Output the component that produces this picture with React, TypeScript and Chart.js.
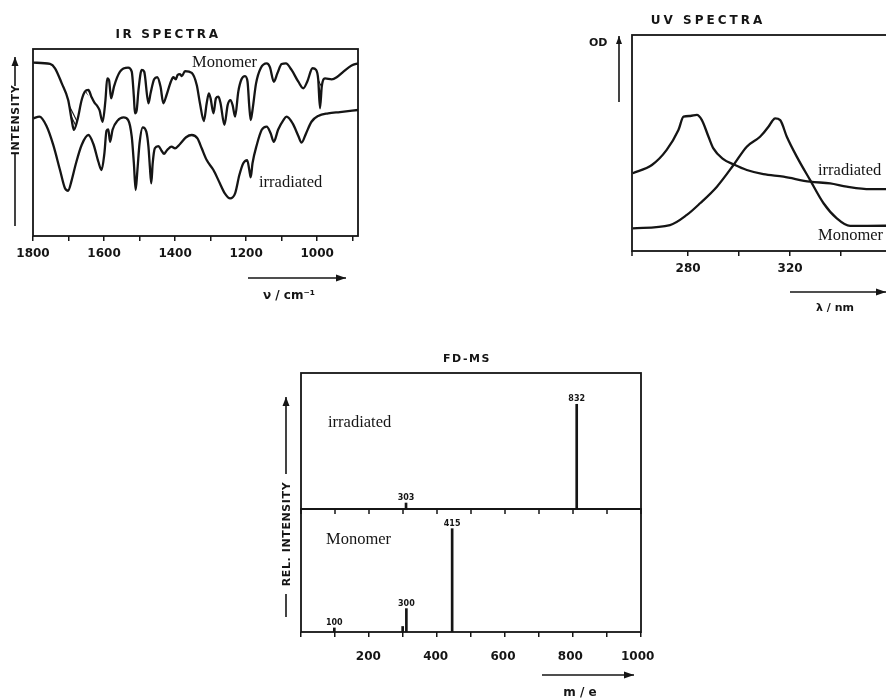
import React, { useEffect, useRef } from "react";
import { Chart, registerables } from "chart.js";
Chart.register(...registerables);

// ---------------- IR data (wavenumber cm-1, relative intensity position) ----------------
const irMonomerNu = [1799, 1752, 1738, 1719, 1701, 1691, 1685, 1675, 1663, 1654, 1644, 1635, 1627, 1621, 1613, 1604, 1596, 1591, 1586, 1580, 1572, 1555, 1532, 1522, 1516, 1513, 1508, 1503, 1494, 1487, 1475, 1469, 1459, 1450, 1441, 1433, 1424, 1412, 1405, 1398, 1393, 1386, 1381, 1372, 1353, 1339, 1330, 1319, 1311, 1305, 1300, 1292, 1285, 1278, 1272, 1261, 1252, 1244, 1238, 1231, 1222, 1213, 1203, 1196, 1191, 1187, 1182, 1172, 1159, 1142, 1133, 1122, 1112, 1100, 1088, 1072, 1053, 1039, 1028, 1013, 1003, 997, 992, 987, 978, 959, 945, 926, 903, 884];
const irMonomer = [92.7, 92, 89.7, 81.6, 72.7, 62, 56.7, 62, 72.7, 77.2, 78.1, 74.2, 71.3, 70, 67.4, 61.1, 72.7, 84.3, 83.4, 73.6, 79.9, 87.9, 90, 87.9, 74.5, 65.6, 67.4, 78.1, 88.8, 87.9, 71, 76.3, 83.8, 84.9, 79.9, 71, 75.4, 82.5, 84.9, 83.8, 86.1, 86.6, 85.5, 88.2, 87.2, 80.7, 71, 61.5, 71, 76.3, 73.6, 65.6, 73.6, 74.5, 71, 59.4, 70, 72.7, 70, 63.8, 77.2, 83.8, 85.5, 82.5, 69.1, 62, 67.4, 81.6, 89.7, 92.3, 90.3, 82.5, 87, 92, 92.3, 88.8, 82.5, 79, 82.5, 89.7, 88.8, 83.8, 68.3, 79.9, 84.3, 83.8, 84.9, 87.9, 91.2, 92.3];
const irIrradiatedNu = [1799, 1782, 1762, 1743, 1724, 1710, 1701, 1691, 1679, 1663, 1644, 1630, 1616, 1607, 1599, 1593, 1588, 1583, 1576, 1562, 1545, 1532, 1522, 1516, 1511, 1506, 1500, 1491, 1481, 1475, 1471, 1467, 1463, 1457, 1447, 1438, 1431, 1424, 1410, 1400, 1386, 1369, 1353, 1337, 1325, 1311, 1292, 1274, 1260, 1245, 1231, 1219, 1208, 1197, 1191, 1187, 1182, 1170, 1156, 1142, 1131, 1122, 1110, 1095, 1086, 1069, 1053, 1044, 1031, 1016, 997, 969, 936, 884];
const irIrradiated = [62.9, 63.8, 58.8, 48.7, 35.3, 25.5, 24.2, 29.9, 38.9, 48.7, 54, 49.2, 39.7, 35.3, 44.2, 56.3, 57, 50.4, 56.8, 61.7, 63.4, 62, 53.1, 38.9, 24.6, 35.3, 49.6, 58.1, 55.8, 47.8, 37.1, 28.2, 38.9, 46.9, 48.1, 45.6, 43.9, 45.6, 47.8, 46.9, 49.2, 52.8, 54, 52.2, 46.9, 40.6, 35.3, 28.2, 22.8, 20.1, 22.8, 32.6, 38.9, 40.6, 35.3, 31.4, 38.9, 48.7, 56.8, 58.5, 54.9, 50.4, 56.8, 62, 63.8, 60.2, 53.5, 49.9, 55, 61.1, 64.2, 65.6, 66.3, 67.4];
const irTickLabels = [1800, 1600, 1400, 1200, 1000];
// hatched bands of the monomer spectrum (wavenumber ranges)
const irHatchBands = [[1722, 1675], [1656, 1620], [1004, 986]];

// ---------------- UV data (nm, OD position) ----------------
const uvMonomerNm = [258.3, 272.9, 279.5, 284.7, 291.3, 297.8, 303, 308.2, 311.5, 313, 314.1, 316.1, 318.7, 322.6, 327.8, 333.1, 338.3, 343.5, 357.3, 367];
const uvMonomer = [10.5, 12, 16.7, 22.1, 29.8, 39.8, 48.3, 52.9, 57.5, 60.2, 61.4, 60.6, 52.9, 43.7, 32.9, 22.1, 15.1, 11.6, 11.7, 11.7];
const uvIrradiatedNm = [258.3, 265.8, 271.6, 276.2, 278.2, 280.8, 283.4, 285.4, 288, 289.9, 293.8, 297.8, 303, 309.5, 317.4, 327.8, 335.7, 342.2, 351.4, 357.3, 367];
const uvIrradiated = [36, 39.8, 46.8, 56, 62.2, 62.5, 63, 60.6, 52.9, 47.5, 42.5, 40.1, 37.5, 35.6, 34.4, 32.1, 31.3, 29.8, 28.6, 28.6, 28.5];
const uvTickLabels = [280, 320];

// ---------------- FD-MS data (m/e, relative intensity) ----------------
const msIrradiatedMass = [312, 819];
const msIrradiatedIntensity = [4.4, 77];
const msIrradiatedLabels = ["303", "832"];
const msMonomerMass = [99, 302, 313, 449];
const msMonomerIntensity = [3.3, 4.5, 19, 84];
const msMonomerLabels = ["100", "", "300", "415"];
const msTickLabels = [200, 400, 600, 800, 1000];

const SANS = '"DejaVu Sans", sans-serif';
const SERIF = '"Liberation Serif", "DejaVu Serif", serif';
const INK = "#151515";

function drawArrow(ctx: CanvasRenderingContext2D, x1: number, y1: number, x2: number, y2: number, head = 8, half = 3.5) {
  ctx.beginPath();
  ctx.moveTo(x1, y1);
  ctx.lineTo(x2, y2);
  ctx.stroke();
  const a = Math.atan2(y2 - y1, x2 - x1);
  ctx.beginPath();
  ctx.moveTo(x2, y2);
  ctx.lineTo(x2 - head * Math.cos(a) + half * Math.sin(a), y2 - head * Math.sin(a) - half * Math.cos(a));
  ctx.lineTo(x2 - head * Math.cos(a) - half * Math.sin(a), y2 - head * Math.sin(a) + half * Math.cos(a));
  ctx.closePath();
  ctx.fill();
}

function text(ctx: CanvasRenderingContext2D, s: string, x: number, y: number, font: string, align: CanvasTextAlign = "left", spacing = "0px") {
  ctx.save();
  ctx.font = font;
  (ctx as any).letterSpacing = spacing;
  ctx.textAlign = align;
  ctx.textBaseline = "alphabetic";
  ctx.fillStyle = INK;
  ctx.fillText(s, x, y);
  ctx.restore();
}

function vLabel(ctx: CanvasRenderingContext2D, s: string, x: number, tip: number, lineEnd: number, cy: number, lineStart: number, bottom: number) {
  ctx.save();
  ctx.strokeStyle = INK;
  ctx.fillStyle = INK;
  ctx.lineWidth = 1.6;
  drawArrow(ctx, x, lineEnd, x, tip, 9, 3.5);
  ctx.beginPath();
  ctx.moveTo(x, lineStart);
  ctx.lineTo(x, bottom);
  ctx.stroke();
  ctx.translate(x, cy);
  ctx.rotate(-Math.PI / 2);
  ctx.font = `bold 11px ${SANS}`;
  (ctx as any).letterSpacing = "0.6px";
  ctx.textAlign = "center";
  ctx.textBaseline = "middle";
  ctx.fillText(s, 0, 1);
  ctx.restore();
}

function frame(ctx: CanvasRenderingContext2D, l: number, t: number, r: number, b: number) {
  ctx.save();
  ctx.strokeStyle = INK;
  ctx.lineWidth = 1.8;
  ctx.strokeRect(l, t, r - l, b - t);
  ctx.restore();
}

function fixedHeight(h: number) {
  return (scale: any) => {
    scale.height = h;
  };
}

function xy(xs: number[], ys: number[]) {
  return xs.map((x, i) => ({ x, y: ys[i] }));
}

const lineDs = (label: string, data: any[]) => ({
  label,
  data,
  borderColor: INK,
  borderWidth: 2.3,
  pointRadius: 0,
  fill: false,
  cubicInterpolationMode: "monotone" as const,
});

function useChart(ref: React.RefObject<HTMLCanvasElement>, make: () => any) {
  useEffect(() => {
    if (!ref.current) return;
    const chart = new Chart(ref.current, make());
    return () => chart.destroy();
  }, []);
}

const baseOptions = {
  animation: false,
  responsive: false,
  devicePixelRatio: 1,
  events: [],
  plugins: { legend: { display: false }, tooltip: { enabled: false }, title: { display: false } },
};

function IRChart() {
  const ref = useRef<HTMLCanvasElement>(null);
  const W = 372, H = 310, OX = 0, OY = 0;
  useChart(ref, () => ({
    type: "line",
    data: {
      datasets: [lineDs("Monomer", xy(irMonomerNu, irMonomer)), lineDs("irradiated", xy(irIrradiatedNu, irIrradiated))],
    },
    options: {
      ...baseOptions,
      layout: { padding: { left: 33 - OX, right: W - 358, top: 49 - OY, bottom: 0 } },
      scales: {
        x: {
          type: "linear",
          reverse: true,
          min: 885,
          max: 1800,
          afterFit: fixedHeight(H - 236),
          border: { display: false },
          grid: { drawOnChartArea: false, drawTicks: true, tickLength: 5, color: INK, lineWidth: 1.5 },
          ticks: {
            stepSize: 100,
            includeBounds: false,
            autoSkip: false,
            maxRotation: 0,
            padding: 6,
            color: INK,
            font: { family: SANS, weight: "bold", size: 12 },
            callback: (v: number) => (irTickLabels.includes(v) ? String(v) : ""),
          },
        },
        y: { display: false, min: 0, max: 100 },
      },
    },
    plugins: [
      {
        id: "irHatch",
        afterDatasetsDraw(chart: any) {
          const ctx = chart.ctx as CanvasRenderingContext2D;
          const xs = chart.scales.x;
          const a = chart.chartArea;
          const pts = chart.getDatasetMeta(0).data as any[];
          for (const [hi, lo] of irHatchBands) {
            const inBand = pts.filter((p: any, i: number) => irMonomerNu[i] <= hi && irMonomerNu[i] >= lo);
            if (inBand.length < 2) continue;
            ctx.save();
            ctx.beginPath();
            inBand.forEach((p: any, i: number) => (i ? ctx.lineTo(p.x, p.y) : ctx.moveTo(p.x, p.y)));
            ctx.closePath();
            ctx.clip();
            const x0 = xs.getPixelForValue(hi) - 200;
            const x1 = xs.getPixelForValue(lo) + 20;
            ctx.strokeStyle = INK;
            ctx.lineWidth = 1.1;
            for (let x = x0; x < x1; x += 3.4) {
              ctx.beginPath();
              ctx.moveTo(x, a.top);
              ctx.lineTo(x + 100, a.top + 200);
              ctx.stroke();
            }
            ctx.restore();
          }
        },
        afterDraw(chart: any) {
          const ctx = chart.ctx as CanvasRenderingContext2D;
          const a = chart.chartArea;
          frame(ctx, a.left, a.top, a.right, a.bottom);
          text(ctx, "IR SPECTRA", 168 - OX, 38 - OY, `bold 12px ${SANS}`, "center", "2.6px");
          text(ctx, "Monomer", 192 - OX, 67 - OY, `16.5px ${SERIF}`);
          text(ctx, "irradiated", 259 - OX, 187 - OY, `16.5px ${SERIF}`);
          vLabel(ctx, "INTENSITY", 15 - OX, 57 - OY, 86 - OY, 120 - OY, 154 - OY, 226 - OY);
          ctx.save();
          ctx.strokeStyle = INK;
          ctx.fillStyle = INK;
          ctx.lineWidth = 1.6;
          drawArrow(ctx, 248 - OX, 278 - OY, 346 - OX, 278 - OY, 10, 3.5);
          ctx.restore();
          text(ctx, "ν / cm⁻¹", 289 - OX, 299 - OY, `bold 12px ${SANS}`, "center");
        },
      },
    ],
  }));
  return <canvas ref={ref} width={W} height={H} style={{ position: "absolute", left: OX, top: OY, width: W, height: H }} />;
}

function UVChart() {
  const ref = useRef<HTMLCanvasElement>(null);
  const W = 330, H = 320, OX = 580, OY = 0;
  useChart(ref, () => ({
    type: "line",
    data: {
      datasets: [lineDs("Monomer", xy(uvMonomerNm, uvMonomer)), lineDs("irradiated", xy(uvIrradiatedNm, uvIrradiated))],
    },
    options: {
      ...baseOptions,
      layout: { padding: { left: 632 - OX, right: 0, top: 35 - OY, bottom: 0 } },
      scales: {
        x: {
          type: "linear",
          min: 258,
          max: 367,
          afterFit: fixedHeight(H - 251),
          afterBuildTicks: (s: any) => {
            s.ticks = s.ticks.filter((t: any) => t.value >= 280);
          },
          border: { display: false },
          grid: { drawOnChartArea: false, drawTicks: true, tickLength: 5, color: INK, lineWidth: 1.5 },
          ticks: {
            stepSize: 20,
            includeBounds: false,
            autoSkip: false,
            maxRotation: 0,
            padding: 6,
            color: INK,
            font: { family: SANS, weight: "bold", size: 12 },
            callback: (v: number) => (uvTickLabels.includes(v) ? String(v) : ""),
          },
        },
        y: { display: false, min: 0, max: 100 },
      },
    },
    plugins: [
      {
        id: "uvDecor",
        afterDraw(chart: any) {
          const ctx = chart.ctx as CanvasRenderingContext2D;
          const a = chart.chartArea;
          frame(ctx, a.left, a.top, a.right + 20, a.bottom);
          ctx.save();
          ctx.strokeStyle = INK;
          ctx.lineWidth = 1.5;
          ctx.beginPath();
          ctx.moveTo(a.left, a.bottom);
          ctx.lineTo(a.left, a.bottom + 5);
          ctx.stroke();
          ctx.restore();
          text(ctx, "UV SPECTRA", 708 - OX, 24 - OY, `bold 12px ${SANS}`, "center", "3px");
          text(ctx, "OD", 589 - OX, 46 - OY, `bold 11px ${SANS}`);
          ctx.save();
          ctx.strokeStyle = INK;
          ctx.fillStyle = INK;
          ctx.lineWidth = 1.6;
          drawArrow(ctx, 619 - OX, 102 - OY, 619 - OX, 36 - OY, 8, 3);
          drawArrow(ctx, 790 - OX, 292 - OY, 886 - OX, 292 - OY, 10, 3.5);
          ctx.restore();
          text(ctx, "irradiated", 818 - OX, 175 - OY, `16.5px ${SERIF}`);
          text(ctx, "Monomer", 818 - OX, 240 - OY, `16.5px ${SERIF}`);
          text(ctx, "λ / nm", 835 - OX, 311 - OY, `bold 11px ${SANS}`, "center");
        },
      },
    ],
  }));
  return <canvas ref={ref} width={W} height={H} style={{ position: "absolute", left: OX, top: OY, width: W, height: H }} />;
}

function MSChart() {
  const ref = useRef<HTMLCanvasElement>(null);
  const W = 390, H = 358, OX = 270, OY = 340;
  useChart(ref, () => ({
    type: "bar",
    data: {
      datasets: [
        {
          label: "Monomer",
          data: xy(msMonomerMass, msMonomerIntensity),
          yAxisID: "yBot",
          backgroundColor: INK,
          barThickness: 2,
          grouped: false,
          peakLabels: msMonomerLabels,
        },
        {
          label: "irradiated",
          data: xy(msIrradiatedMass, msIrradiatedIntensity),
          yAxisID: "yTop",
          backgroundColor: INK,
          barThickness: 2,
          grouped: false,
          peakLabels: msIrradiatedLabels,
        },
      ],
    },
    options: {
      ...baseOptions,
      layout: { padding: { left: 301 - OX, right: W - (641 - OX), top: 373 - OY, bottom: 0 } },
      scales: {
        x: {
          type: "linear",
          offset: false,
          min: 0,
          max: 1010,
          afterFit: fixedHeight(H - (632 - OY)),
          border: { display: false },
          grid: { offset: false, drawOnChartArea: false, drawTicks: true, tickLength: 5, color: INK, lineWidth: 1.5 },
          ticks: {
            display: false,
            stepSize: 100,
            includeBounds: false,
            autoSkip: false,
            maxRotation: 0,
          },
        },
        yBot: { type: "linear", display: false, min: 0, max: 100, stack: "ms", stackWeight: 123, weight: 1 },
        yTop: { type: "linear", display: false, min: 0, max: 100, stack: "ms", stackWeight: 136, weight: 2 },
      },
    },
    plugins: [
      {
        id: "msDecor",
        afterDraw(chart: any) {
          const ctx = chart.ctx as CanvasRenderingContext2D;
          const a = chart.chartArea;
          const yT = chart.scales.yTop;
          const yB = chart.scales.yBot;
          const xs = chart.scales.x;
          frame(ctx, a.left, yT.top, a.right, yT.bottom);
          frame(ctx, a.left, yB.top, a.right, yB.bottom);
          ctx.save();
          ctx.strokeStyle = INK;
          ctx.lineWidth = 1.5;
          for (const t of xs.ticks) {
            const px = xs.getPixelForValue(t.value);
            ctx.beginPath();
            ctx.moveTo(px, yT.bottom);
            ctx.lineTo(px, yT.bottom + 5);
            ctx.stroke();
          }
          ctx.restore();
          // x tick labels, placed with the library's x scale
          for (const v of msTickLabels) {
            text(ctx, String(v), xs.getPixelForValue(v), yB.bottom + 28, `bold 12px ${SANS}`, "center");
          }
          chart.data.datasets.forEach((ds: any, di: number) => {
            const meta = chart.getDatasetMeta(di);
            meta.data.forEach((el: any, i: number) => {
              const lab = ds.peakLabels[i];
              if (lab) text(ctx, lab, el.x, el.y - 3, `bold 8px ${SANS}`, "center");
            });
          });
          text(ctx, "FD-MS", 467 - OX, 362 - OY, `bold 11px ${SANS}`, "center", "1.5px");
          text(ctx, "irradiated", 328 - OX, 427 - OY, `16.5px ${SERIF}`);
          text(ctx, "Monomer", 326 - OX, 544 - OY, `16.5px ${SERIF}`);
          vLabel(ctx, "REL. INTENSITY", 286 - OX, 397 - OY, 474 - OY, 534 - OY, 594 - OY, 617 - OY);
          ctx.save();
          ctx.strokeStyle = INK;
          ctx.fillStyle = INK;
          ctx.lineWidth = 1.6;
          drawArrow(ctx, 542 - OX, 675 - OY, 634 - OX, 675 - OY, 10, 3.5);
          ctx.restore();
          text(ctx, "m / e", 580 - OX, 696 - OY, `bold 12px ${SANS}`, "center");
        },
      },
    ],
  }));
  return <canvas ref={ref} width={W} height={H} style={{ position: "absolute", left: OX, top: OY, width: W, height: H }} />;
}

export default function App() {
  return (
    <div style={{ position: "absolute", left: 0, top: 0, width: 886, height: 698, overflow: "hidden", background: "#fff" }}>
      <IRChart />
      <UVChart />
      <MSChart />
    </div>
  );
}
